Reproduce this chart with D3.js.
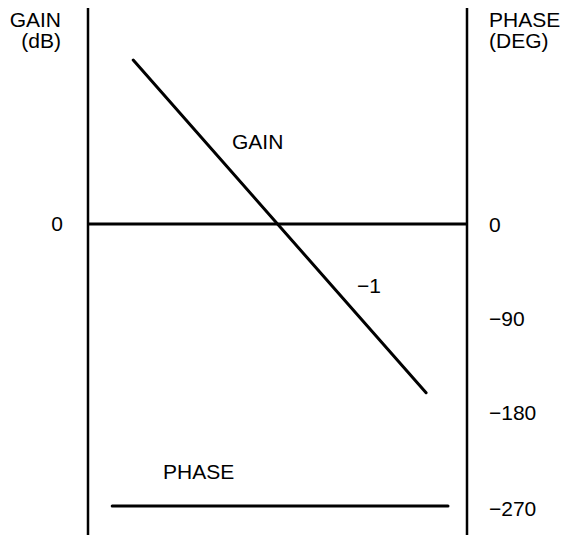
<!DOCTYPE html>
<html>
<head>
<meta charset="utf-8">
<script src="https://cdn.jsdelivr.net/npm/d3@7"></script>
<style>
  body { margin: 0; background: #fff; }
  text { font-family: "Liberation Sans", Arial, sans-serif; font-size: 21px; fill: #000; }
</style>
</head>
<body>
<svg id="bode" width="563" height="535"></svg>
<script>
// gain line (dB) vs frequency (rad/s), slope -1
var gainFreq = [0.03, 37];
var gainDb = [30.5, -31.4];
// phase is flat at -270 deg
var phaseFreq = [0.018, 63];
var phaseDeg = [-270, -270];
var gainTicks = [0];
var phaseTicks = [0, -90, -180, -270];

var width = 563, height = 535;
var left = 88, right = 467;
var svg = d3.select("#bode");

var x = d3.scaleLog().domain([0.01, 100]).range([left, right]);
var gainY = d3.scaleLinear().domain([-40, 40]).range([439, 9]);
var phaseY = d3.scaleLinear().domain([0, -270]).range([224, 506]);

var line = d3.line().x(d => x(d[0])).y(d => d[1]);

// axis lines
svg.append("g")
  .attr("stroke", "#000")
  .attr("stroke-width", 2.5)
  .selectAll("line").data([left, right]).enter().append("line")
    .attr("x1", d => d).attr("x2", d => d)
    .attr("y1", 8).attr("y2", height);

svg.append("line")
  .attr("x1", left).attr("x2", right)
  .attr("y1", gainY(0)).attr("y2", gainY(0))
  .attr("stroke", "#000").attr("stroke-width", 3);

// tick labels
svg.append("g")
  .attr("transform", "translate(" + left + ",0)")
  .call(d3.axisLeft(gainY).tickValues(gainTicks).tickSize(0).tickPadding(25))
  .call(g => g.select(".domain").remove())
  .call(g => g.selectAll("text").attr("font-size", null).attr("font-family", null));

svg.append("g")
  .attr("transform", "translate(" + right + ",0)")
  .call(d3.axisRight(phaseY).tickValues(phaseTicks).tickSize(0).tickPadding(22))
  .call(g => g.select(".domain").remove())
  .call(g => g.selectAll("text").attr("font-size", null).attr("font-family", null)
    .attr("dy", d => d == -270 ? "0.45em" : "0.38em"));

// gain and phase curves
svg.append("path")
  .datum(gainFreq.map((f, i) => [f, gainY(gainDb[i])]))
  .attr("d", line)
  .attr("fill", "none").attr("stroke", "#000")
  .attr("stroke-width", 3).attr("stroke-linecap", "round");

svg.append("path")
  .datum(phaseFreq.map((f, i) => [f, phaseY(phaseDeg[i])]))
  .attr("d", line)
  .attr("fill", "none").attr("stroke", "#000")
  .attr("stroke-width", 3).attr("stroke-linecap", "round");

// axis titles
svg.append("text").attr("x", 61).attr("y", 27).attr("text-anchor", "end").text("GAIN");
svg.append("text").attr("x", 61).attr("y", 48).attr("text-anchor", "end").text("(dB)");
svg.append("text").attr("x", 489).attr("y", 27).text("PHASE");
svg.append("text").attr("x", 489).attr("y", 48).text("(DEG)");

// annotations
svg.append("text").attr("x", 232).attr("y", 149).text("GAIN");
svg.append("text").attr("x", 357).attr("y", 293).text("\u22121");
svg.append("text").attr("x", 163).attr("y", 479).text("PHASE");
</script>
</body>
</html>
